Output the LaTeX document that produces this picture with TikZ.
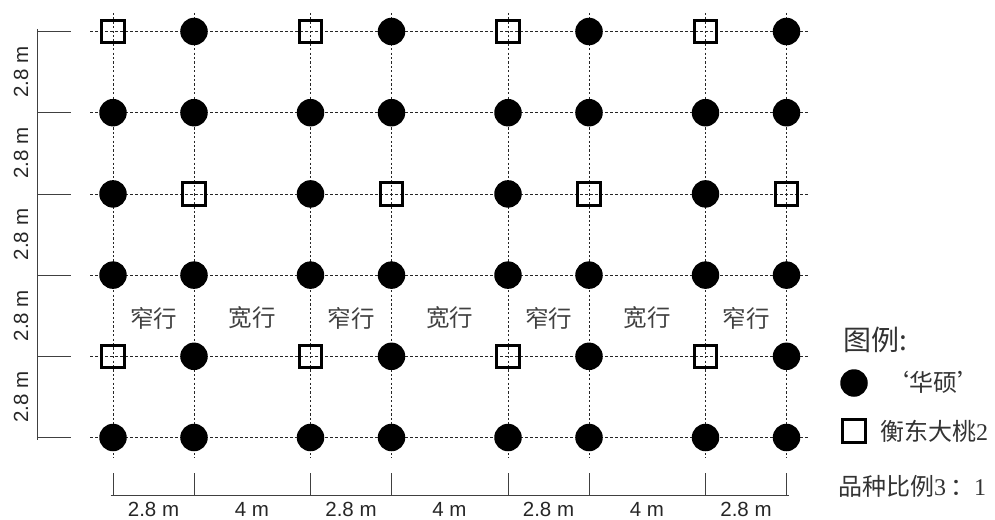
\documentclass[tikz,border=0pt]{standalone}
\usepackage{fontspec}
\setmainfont{Liberation Serif}
\setsansfont{Liberation Sans}
\newfontfamily\cjk{Noto Sans CJK SC}
\usetikzlibrary{calc}
\def\dimfont{\sffamily\fontsize{20.5}{20.5}\selectfont}
\def\rowfont{\cjk\fontsize{23.5}{23.5}\selectfont}
\tikzset{
	huashuo/.style={circle, fill=black, minimum size=27.5pt, inner sep=0pt},
	hengdong/.style={rectangle, draw=black, line width=3pt, minimum size=22.6pt, inner sep=0pt},
	rowline/.style={black!85, line width=0.8pt, dash pattern=on 3pt off 2pt},
	colline/.style={black!85, line width=0.9pt, dash pattern=on 2.2pt off 2.2pt},
	dimline/.style={black!75, line width=0.8pt},
	dimlabel/.style={text=black!85, font=\dimfont, inner sep=0pt},
	rowlabel/.style={text=black!75, font=\rowfont, inner sep=0pt},
	legendtext/.style={text=black!80, font=\cjk\fontsize{24}{24}\selectfont, inner sep=0pt, anchor=west}
}

\begin{document}
\begin{tikzpicture}[x=1pt, y=-1pt]
		%%%%% START %%%%%
		\useasboundingbox (0, 0) rectangle (995, 519);
		
		% grid lines
		\foreach \y [count=\r] in {31.5, 112.7, 193.9, 275.1, 356.3, 437.5} {
			\coordinate (gl-\r) at (90, \y);
			\coordinate (gr-\r) at (808, \y);
			\draw[rowline] (gl-\r) -- (gr-\r);
		}
		\foreach \x [count=\c] in {113, 194, 310.5, 391.5, 508, 589, 705.5, 786.5} {
			\coordinate (gt-\c) at (\x, 13);
			\coordinate (gb-\c) at (\x, 458);
			\draw[colline] (gt-\c) -- (gb-\c);
		}
		
		% plants
		\foreach \y [count=\r] in {31.5, 112.7, 193.9, 275.1, 356.3, 437.5} {
			\foreach \x [count=\c] in {113, 194, 310.5, 391.5, 508, 589, 705.5, 786.5} {
				\pgfmathtruncatemacro\kind{((\r==1 || \r==5) && isodd(\c)) || (\r==3 && iseven(\c))}
				\ifnum\kind=1
					\node[hengdong] (p-\r-\c) at (\x, \y) {};
				\else
					\node[huashuo] (p-\r-\c) at (\x, \y) {};
				\fi
			}
		}
		
		% left dimension
		\foreach \y [count=\r] in {31.5, 112.7, 193.9, 275.1, 356.3, 437.5} {
			\coordinate (dl-\r) at (37, \y);
			\coordinate (dt-\r) at (71, \y);
			\draw[dimline] (dl-\r) -- (dt-\r);
			\draw[dimline] ($(dl-\r)+(0,-2.5)$) -- ($(dl-\r)+(0,2.5)$);
		}
		\draw[dimline] (dl-1) -- (dl-6);
		\foreach \y in {72, 153.3, 234.5, 315.7, 396.9}
			\node[dimlabel, rotate=90] at (21, \y) {2.8 m};
		
		% bottom dimension
		\foreach \x [count=\c] in {113, 194, 310.5, 391.5, 508, 589, 705.5, 786.5} {
			\coordinate (db-\c) at (\x, 495);
			\coordinate (du-\c) at (\x, 473);
			\draw[dimline] (du-\c) -- (db-\c);
			\draw[dimline] ($(db-\c)+(-2.5,0)$) -- ($(db-\c)+(2.5,0)$);
		}
		\draw[dimline] (db-1) -- (db-8);
		\foreach \x/\w in {153.5/2.8 m, 252/4 m, 351/2.8 m, 449.5/4 m, 548.5/2.8 m, 647/4 m, 746/2.8 m}
			\node[dimlabel] at (\x, 509) {\w};
		
		% row widths
		\foreach \x/\w in {153.5/窄行, 252/宽行, 351/窄行, 449.5/宽行, 548.5/窄行, 647/宽行, 746/窄行}
			\node[rowlabel] at (\x, 318) {\w};
		
		% legend
		\node[legendtext, font=\cjk\fontsize{28}{28}\selectfont] (legend) at (843, 340) {图例:};
		\node[huashuo] (lg-hs) at (854, 383) {};
		\node[legendtext] (lt-hs) at (885, 382) {‘华硕’};
		\node[hengdong] (lg-hd) at (854, 431) {};
		\node[legendtext] (lt-hd) at (880, 431) {衡东大桃{\rmfamily 2}};
		\node[legendtext] (ratio) at (838, 486) {品种比例{\rmfamily 3}\,：{\rmfamily 1}};
		%%%%% END %%%%%
\end{tikzpicture}
\end{document}
